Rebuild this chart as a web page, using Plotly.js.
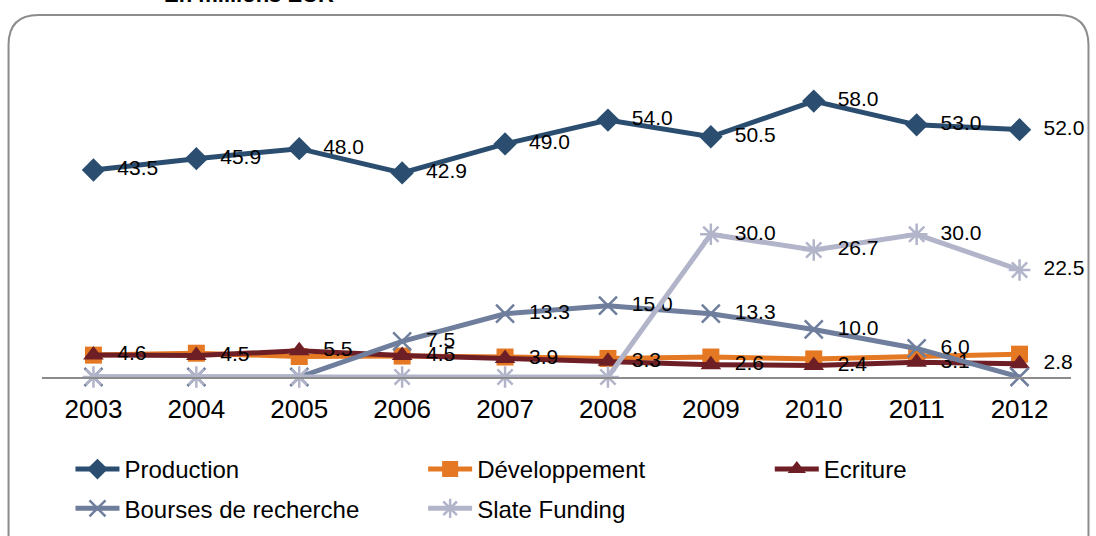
<!DOCTYPE html>
<html>
<head>
<meta charset="utf-8">
<script src="https://cdn.plot.ly/plotly-3.0.1.min.js"></script>
<style>html,body{margin:0;padding:0;background:#fff;}#chart{width:1096px;height:536px;}</style>
</head>
<body>
<div id="chart"></div>
<script>
const years = ['2003','2004','2005','2006','2007','2008','2009','2010','2011','2012'];
const production = [43.5, 45.9, 48.0, 42.9, 49.0, 54.0, 50.5, 58.0, 53.0, 52.0];
const developpement = [4.6, 5.0, 4.3, 4.4, 4.2, 3.9, 4.2, 3.8, 4.3, 4.8];
const ecriture = [4.6, 4.5, 5.5, 4.5, 3.9, 3.3, 2.6, 2.4, 3.1, 2.8];
const bourses = [0, 0, 0, 7.5, 13.3, 15.0, 13.3, 10.0, 6.0, 0];
const slate = [0, 0, 0, 0, 0, 0, 30.0, 26.7, 30.0, 22.5];
const seriesNames = ['Production', 'Développement', 'Ecriture', 'Bourses de recherche', 'Slate Funding'];
const titleText = 'En millions EUR';

const W = 1096, H = 536;
const L = 41.5, R = 24.5, T = 44, B = 159;
const pw = W - L - R, ph = H - T - B;
const px = x => (x - L) / pw;
const py = y => (H - B - y) / ph;

const fmt = v => '\u00a0\u00a0' + v.toFixed(1);
const lab = (arr) => arr.map(v => v === 0 ? '' : fmt(v));
const FAM = 'Liberation Sans, Arial, sans-serif';
const font = {family: FAM, size: 21, color: '#000'};

function tr(name, y, color, symbol, size, showText, legend, extraMarker) {
  const m = Object.assign({symbol: symbol, size: size, color: color}, extraMarker || {});
  return {
    x: years, y: y, name: name, type: 'scatter', mode: showText ? 'lines+markers+text' : 'lines+markers',
    line: {color: color, width: 5},
    marker: m,
    text: showText ? lab(y) : undefined,
    textposition: 'middle right',
    textfont: font,
    cliponaxis: false,
    legend: legend,
    legendgroup: 'g_' + name,
    hoverinfo: 'x+y+name'
  };
}

const data = [
  tr(seriesNames[0], production, '#2B4E70', 'diamond', 18, true, 'legend'),
  tr(seriesNames[1], developpement, '#E57823', 'square', 17, false, 'legend2'),
  tr(seriesNames[2], ecriture, '#6E1F25', 'triangle-up', 18, true, 'legend3'),
  tr(seriesNames[3], bourses, '#6F7E9C', 'x-thin-open', 18, true, 'legend', {line: {color: '#6F7E9C', width: 2.5}}),
  tr(seriesNames[4], slate, '#B2B5CA', 'asterisk-open', 18, true, 'legend2', {line: {color: '#B2B5CA', width: 2.5}})
];

const r = 30;
const x0 = 8, y0 = 15, x1 = 1089, y1 = 560;
const path = `M ${px(x0)},${py(y1)} L ${px(x0)},${py(y0 + r)} Q ${px(x0)},${py(y0)} ${px(x0 + r)},${py(y0)} L ${px(x1 - r)},${py(y0)} Q ${px(x1)},${py(y0)} ${px(x1)},${py(y0 + r)} L ${px(x1)},${py(y1)}`;

const legFont = {family: FAM, size: 24, color: '#000'};
function leg(xpx) {
  return {x: px(xpx), y: py(447), xref: 'paper', yref: 'paper', xanchor: 'left', yanchor: 'top',
    orientation: 'v', font: legFont, bgcolor: 'rgba(0,0,0,0)', traceorder: 'grouped', itemwidth: 44, tracegroupgap: 5};
}

const layout = {
  width: W, height: H,
  margin: {l: L, r: R, t: T, b: B, pad: 0, autoexpand: false},
  paper_bgcolor: '#fff', plot_bgcolor: 'rgba(0,0,0,0)',
  showlegend: true,
  legend: leg(70), legend2: leg(423), legend3: leg(770),
  xaxis: {
    type: 'category', range: [-0.5, 9.5], showgrid: false, zeroline: false,
    showline: true, linecolor: '#8C8C8C', linewidth: 2, ticks: '',
    tickfont: {family: FAM, size: 26, color: '#000'},
    ticklabelstandoff: 8, fixedrange: true, automargin: false
  },
  yaxis: {range: [0, 70], visible: false, showgrid: false, zeroline: false, fixedrange: true, automargin: false},
  shapes: [{type: 'path', xref: 'paper', yref: 'paper', path: path, line: {color: '#8C8C8C', width: 2}, layer: 'below'}],
  annotations: [{text: '<b>' + titleText + '</b>', xref: 'paper', yref: 'paper', x: px(249), y: py(9), xanchor: 'center', yanchor: 'bottom', showarrow: false,
    font: {family: FAM, size: 22, color: '#000'}}]
};

Plotly.newPlot('chart', data, layout, {displayModeBar: false, staticPlot: true});
</script>
</body>
</html>
